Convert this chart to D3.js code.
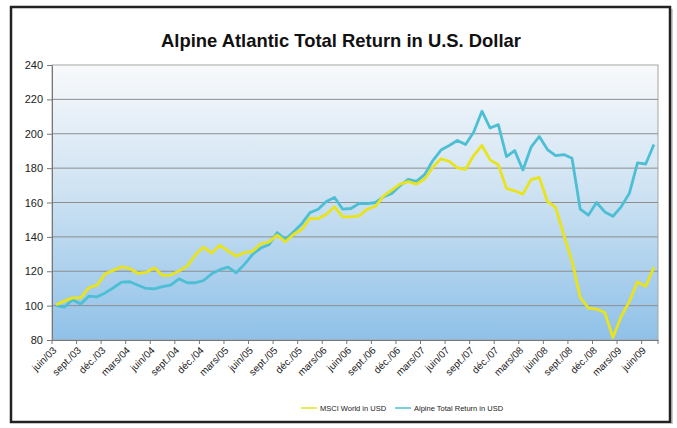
<!DOCTYPE html>
<html>
<head>
<meta charset="utf-8">
<script src="https://cdn.jsdelivr.net/npm/d3@7"></script>
<style>
  body { margin: 0; background: #fff; }
  svg { display: block; font-family: "Liberation Sans", Arial, sans-serif; }
  .tick text { fill: #222; }
</style>
</head>
<body>
<div class="graphic"></div>
<script>
// monthly index values, juin/03 .. juil./09
const msci = [100.5, 102.6, 104.5, 104.5, 110.4, 111.9, 118.5, 120.5, 122.6, 121.6,
  118.7, 119.3, 122, 117.6, 117.8, 120.1, 123, 129.4, 134.1, 130.6,
  135.1, 131.8, 128.8, 130.8, 131.6, 136, 137, 141, 137.2, 141.5,
  144.4, 150.8, 150.6, 153.2, 157.5, 151.6, 151.6, 152.2, 156.1, 157.8,
  163.9, 167.2, 170.7, 172.1, 170.7, 173.7, 180.5, 185.4, 184, 180.1,
  179.3, 187.3, 193.2, 184.8, 182, 168.2, 166.8, 164.9, 173.3, 174.6,
  160.6, 157.1, 141.1, 125.9, 104.8, 98.5, 98, 96, 81.4, 93.7,
  102.4, 113.8, 111.2, 122.3];

const alpine = [100, 99.1, 103.4, 101, 105.5, 105.1, 107.4, 110.4, 113.7, 113.9,
  111.9, 110, 109.8, 111.1, 111.9, 115.6, 113.3, 113.3, 114.6, 118.5,
  120.9, 122.4, 119.1, 124, 129.8, 133.5, 135.5, 142.5, 138.5, 143,
  147.7, 154.1, 156.1, 160.6, 162.9, 156.1, 156.5, 159.4, 159.4, 160,
  163.3, 165.3, 169.8, 173.5, 172.3, 176.2, 184.4, 190.5, 193.2, 196.1,
  193.7, 201, 213.1, 203.3, 205.3, 186.7, 190.2, 178.9, 192.2, 198.4,
  190.8, 187.3, 187.9, 185.7, 156.1, 152.6, 160, 154.5, 152, 157.5,
  165.3, 183, 182.4, 193.7];

// one label every third month
const tickLabels = ["juin/03", "sept./03", "déc./03", "mars/04", "juin/04", "sept./04",
  "déc./04", "mars/05", "juin/05", "sept./05", "déc./05", "mars/06", "juin/06",
  "sept./06", "déc./06", "mars/07", "juin/07", "sept./07", "déc./07", "mars/08",
  "juin/08", "sept./08", "déc./08", "mars/09", "juin/09"];

const yTicks = [80, 100, 120, 140, 160, 180, 200, 220, 240];

const seriesNames = ["MSCI World in USD", "Alpine Total Return in USD"];
const seriesColors = ["#e9e31c", "#4cbfd4"];

const W = 677, H = 428;
const m = {left: 52, right: 658, top: 65, bottom: 340};

const svg = d3.select(".graphic").append("svg")
  .attr("width", W)
  .attr("height", H);

// outer frame
svg.append("line")
  .attr("x1", 672).attr("x2", 672).attr("y1", 9).attr("y2", 424)
  .attr("stroke", "#bbb").attr("stroke-width", 1.5);
svg.append("rect")
  .attr("x", 11).attr("y", 7)
  .attr("width", 659).attr("height", 415)
  .attr("fill", "none")
  .attr("stroke", "#222")
  .attr("stroke-width", 2.5);

svg.append("text")
  .attr("x", 341).attr("y", 47)
  .attr("text-anchor", "middle")
  .attr("font-size", 18.5)
  .attr("font-weight", "bold")
  .attr("textLength", 360)
  .attr("lengthAdjust", "spacingAndGlyphs")
  .attr("fill", "#111")
  .text("Alpine Atlantic Total Return in U.S. Dollar");

const idx = d3.range(msci.length);

const x = d3.scaleBand()
  .domain(idx)
  .range([m.left, m.right])
  .padding(0);

const y = d3.scaleLinear()
  .domain([80, 240])
  .range([m.bottom, m.top]);

const grad = svg.append("defs").append("linearGradient")
  .attr("id", "bg")
  .attr("x1", 0).attr("y1", 0).attr("x2", 0).attr("y2", 1);
grad.append("stop").attr("offset", "0%").attr("stop-color", "#f8f9fb");
grad.append("stop").attr("offset", "45%").attr("stop-color", "#cfe3f3");
grad.append("stop").attr("offset", "100%").attr("stop-color", "#8fc1e8");

svg.append("rect")
  .attr("x", m.left).attr("y", m.top)
  .attr("width", m.right - m.left).attr("height", m.bottom - m.top)
  .attr("fill", "url(#bg)")
  .attr("stroke", "#a5a5a5")
  .attr("stroke-width", 1);

// grid
svg.selectAll("line.grid")
  .data(yTicks.slice(1, -1))
  .enter()
  .append("line")
  .attr("class", "grid")
  .attr("x1", m.left).attr("x2", m.right)
  .attr("y1", d => y(d)).attr("y2", d => y(d))
  .attr("stroke", "#8e8e8e")
  .attr("stroke-width", 1);

// y axis
const yAxis = svg.append("g")
  .attr("transform", `translate(${m.left},0)`)
  .call(d3.axisLeft(y).tickValues(yTicks).tickSize(5).tickPadding(4).tickSizeOuter(0));
yAxis.select(".domain").attr("stroke", "#777");
yAxis.selectAll(".tick line").attr("stroke", "#777");
yAxis.selectAll(".tick text")
  .attr("font-size", 11)
  .attr("font-family", "Liberation Sans, Arial, sans-serif");

// x axis
const labelIdx = idx.filter(i => i % 3 === 0);
const xAxis = svg.append("g")
  .attr("transform", `translate(0,${m.bottom})`)
  .call(d3.axisBottom(x)
    .tickValues(labelIdx)
    .tickFormat(i => tickLabels[i / 3])
    .tickSize(0)
    .tickSizeOuter(0));
xAxis.select(".domain").attr("stroke", "#777");
xAxis.selectAll(".tick text")
  .attr("font-size", 10)
  .attr("font-family", "Liberation Sans, Arial, sans-serif")
  .attr("text-anchor", "end")
  .attr("dy", null)
  .attr("y", 0)
  .attr("transform", "translate(1,11) rotate(-45)");

svg.selectAll("line.xtick")
  .data(labelIdx.concat([msci.length]))
  .enter()
  .append("line")
  .attr("class", "xtick")
  .attr("x1", d => d < msci.length ? x(d) : m.right)
  .attr("x2", d => d < msci.length ? x(d) : m.right)
  .attr("y1", m.bottom).attr("y2", m.bottom + 4)
  .attr("stroke", "#777");

// lines
const line = d3.line()
  .x((d, i) => x(i) + x.bandwidth() / 2)
  .y(d => y(d));

[alpine, msci].forEach(function(s, k){
  svg.append("path")
    .datum(s)
    .attr("d", line)
    .attr("fill", "none")
    .attr("stroke", seriesColors[1 - k])
    .attr("stroke-width", 2.8)
    .attr("stroke-linejoin", "round");
});

// legend
const legX = [301, 395];
seriesNames.forEach(function(name, k){
  const g = svg.append("g").attr("transform", `translate(${legX[k]},408)`);
  g.append("line")
    .attr("x1", 0).attr("x2", 16)
    .attr("stroke", seriesColors[k])
    .attr("stroke-width", 1.5);
  g.append("text")
    .attr("x", 19).attr("y", 2.5)
    .attr("font-size", 7.5)
    .attr("fill", "#222")
    .text(name);
});
</script>
</body>
</html>
